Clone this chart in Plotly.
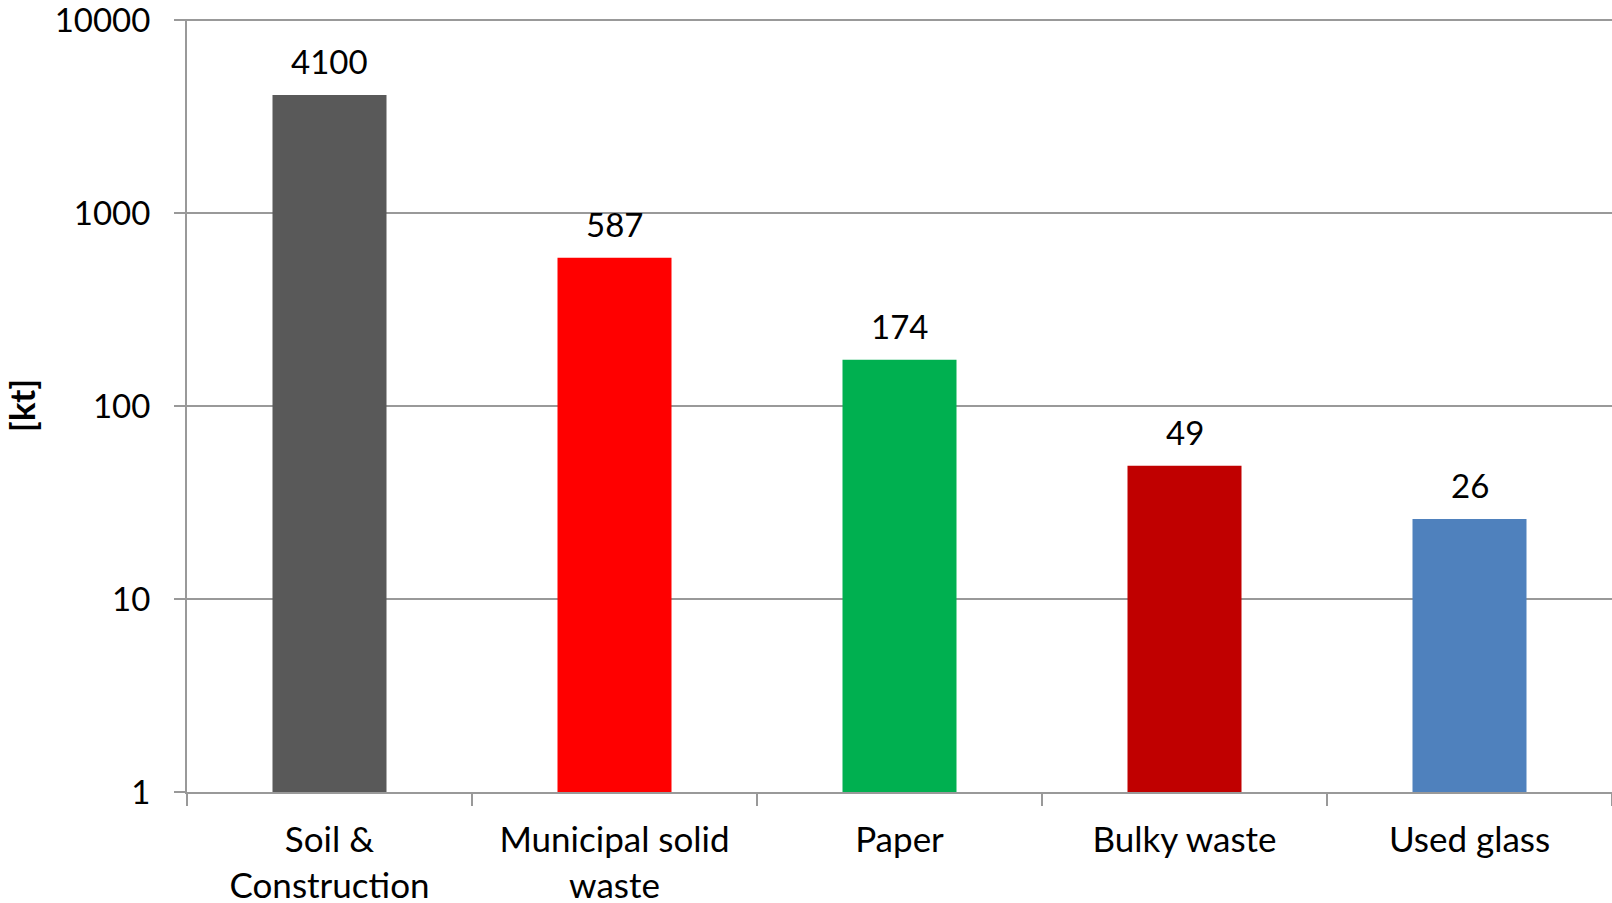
import math
import plotly.graph_objects as go

categories = ["Soil &<br>Construction", "Municipal solid<br>waste", "Paper", "Bulky waste", "Used glass"]
values = [4100, 587, 174, 49, 26]
colors = ["#595959", "#FF0000", "#00B050", "#C00000", "#4F81BD"]
y_ticks = [1, 10, 100, 1000, 10000]
y_ticktext = ["1", "10", "100", "1000", "10000"]

FONT = "Lato"
xpos = list(range(len(categories)))
fig = go.Figure()
fig.add_trace(go.Bar(x=xpos, y=values, marker=dict(color=colors, line=dict(width=0)),
                     width=0.4, showlegend=False))
for x, v in zip(xpos, values):
    fig.add_annotation(x=x, y=math.log10(v), text=str(v), showarrow=False, yanchor="bottom",
                       yshift=12, font=dict(family=FONT, size=33, color="black"))

fig.update_layout(
    width=1612, height=903,
    margin=dict(l=187, r=0, t=19, b=111),
    paper_bgcolor="white", plot_bgcolor="white",
    font=dict(family=FONT, size=33, color="black"),
)
fig.update_xaxes(
    range=[-0.5, 4.5], automargin=False,
    tickmode="array", tickvals=xpos, ticktext=categories,
    showline=True, linecolor="#999999", linewidth=2,
    ticks="", showgrid=False, zeroline=False,
    ticklabelstandoff=16, ticklabeloverflow="allow",
    tickfont=dict(family=FONT, size=35, color="black"),
    minor=dict(tick0=-0.5, dtick=1, ticks="outside", ticklen=12,
               tickcolor="#999999", tickwidth=2, showgrid=False),
)
fig.update_yaxes(
    type="log", range=[0, 4.006], automargin=False,
    tickvals=y_ticks, ticktext=y_ticktext,
    showgrid=True, gridcolor="#999999", gridwidth=2,
    showline=True, linecolor="#999999", linewidth=2,
    ticks="outside", ticklen=11, tickcolor="#999999", tickwidth=2,
    ticklabelstandoff=17, ticklabeloverflow="allow",
    tickfont=dict(family=FONT, size=33, color="black"),
    title=dict(text="<b>[kt]</b>", font=dict(family=FONT, size=35, color="black"), standoff=22),
)
fig.write_html("out.html")
